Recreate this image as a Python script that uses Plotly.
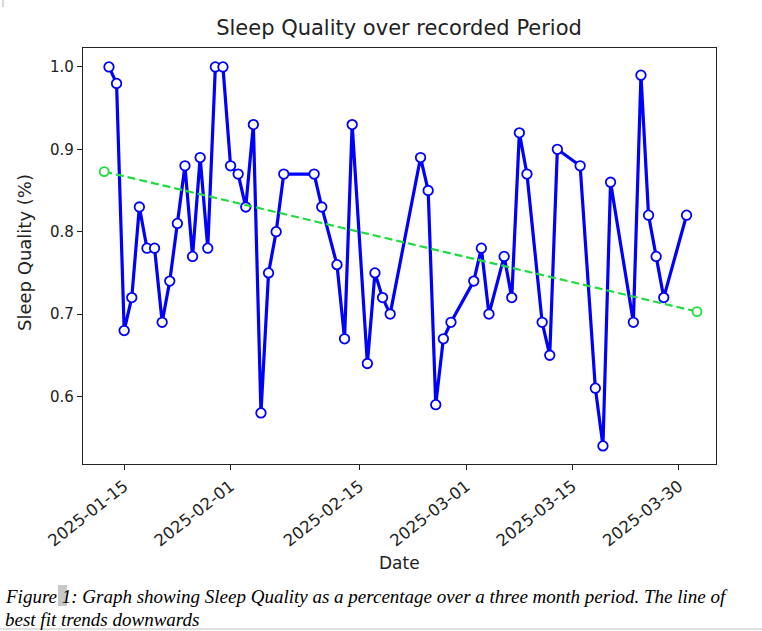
import plotly.graph_objects as go

# sleep quality readings
dates = [
    "2025-01-13", "2025-01-14", "2025-01-15", "2025-01-16", "2025-01-17",
    "2025-01-18", "2025-01-19", "2025-01-20", "2025-01-21", "2025-01-22",
    "2025-01-23", "2025-01-24", "2025-01-25", "2025-01-26", "2025-01-27",
    "2025-01-28", "2025-01-29", "2025-01-30", "2025-01-31", "2025-02-01",
    "2025-02-02", "2025-02-03", "2025-02-04", "2025-02-05", "2025-02-09",
    "2025-02-10", "2025-02-12", "2025-02-13", "2025-02-14", "2025-02-16",
    "2025-02-17", "2025-02-18", "2025-02-19", "2025-02-23", "2025-02-24",
    "2025-02-25", "2025-02-26", "2025-02-27", "2025-03-02", "2025-03-03",
    "2025-03-04", "2025-03-06", "2025-03-07", "2025-03-08", "2025-03-09",
    "2025-03-11", "2025-03-12", "2025-03-13", "2025-03-16", "2025-03-18",
    "2025-03-19", "2025-03-20", "2025-03-23", "2025-03-24", "2025-03-25",
    "2025-03-26", "2025-03-27", "2025-03-30",
]
quality = [
    1.00, 0.98, 0.68, 0.72, 0.83, 0.78, 0.78, 0.69, 0.74, 0.81,
    0.88, 0.77, 0.89, 0.78, 1.00, 1.00, 0.88, 0.87, 0.83, 0.93,
    0.58, 0.75, 0.80, 0.87, 0.87, 0.83, 0.76, 0.67, 0.93, 0.64,
    0.75, 0.72, 0.70, 0.89, 0.85, 0.59, 0.67, 0.69, 0.74, 0.78,
    0.70, 0.77, 0.72, 0.92, 0.87, 0.69, 0.65, 0.90, 0.88, 0.61,
    0.54, 0.86, 0.69, 0.99, 0.82, 0.77, 0.72, 0.82,
]

# line of best fit, end points
trend_dates = ["2025-01-12 09:00", "2025-03-31 09:00"]
trend_values = [0.873, 0.703]

tick_dates = ["2025-01-15", "2025-01-29", "2025-02-15",
              "2025-03-01", "2025-03-15", "2025-03-29"]
tick_labels = ["2025-01-15", "2025-02-01", "2025-02-15",
               "2025-03-01", "2025-03-15", "2025-03-30"]
y_ticks = [0.6, 0.7, 0.8, 0.9, 1.0]

W, H = 762, 631
L, R, T, B = 83, 46, 48, 167

def px_x(px):
    return (px - L) / (W - L - R)

def px_y(py):
    return (H - B - py) / (H - T - B)

fig = go.Figure()

fig.add_trace(go.Scatter(
    x=dates, y=quality, mode="lines+markers",
    line=dict(color="#0000ff", width=3.2),
    marker=dict(symbol="circle", size=9.5, color="white",
                line=dict(color="#0000ff", width=1.8)),
    showlegend=False,
))

fig.add_trace(go.Scatter(
    x=trend_dates, y=trend_values, mode="lines+markers",
    line=dict(color="#1fdd3f", width=2.2, dash="8px,4px"),
    marker=dict(symbol="circle", size=9, color="white",
                line=dict(color="#1fdd3f", width=1.8)),
    showlegend=False,
))

font = "DejaVu Sans"

fig.update_layout(
    width=W, height=H,
    margin=dict(l=L, r=R, t=T, b=B),
    paper_bgcolor="white", plot_bgcolor="white",
    font=dict(family=font, color="#222222"),
    title=dict(text="Sleep Quality over recorded Period",
               x=px_x(399), xref="paper", xanchor="center",
               y=1 - 28 / H, yref="container", yanchor="middle",
               font=dict(size=21, family=font, color="#222222")),
)

fig.update_xaxes(
    type="date",
    range=["2025-01-09 14:00", "2025-04-02 21:00"],
    tickmode="array", tickvals=tick_dates, ticktext=tick_labels,
    tickangle=-38, tickfont=dict(size=16.5, family=font, color="#222222"),
    ticks="outside", ticklen=5, tickcolor="#222222", tickwidth=1.2,
    showline=True, linecolor="#222222", linewidth=1.3, mirror=True,
    showgrid=False, zeroline=False,
)

fig.update_yaxes(
    range=[0.518, 1.023],
    tickmode="array", tickvals=y_ticks, ticktext=[f"{v:.1f}" for v in y_ticks],
    tickfont=dict(size=15, family=font, color="#222222"),
    ticks="outside", ticklen=5, tickcolor="#222222", tickwidth=1.2,
    showline=True, linecolor="#222222", linewidth=1.3, mirror=True,
    showgrid=False, zeroline=False,
)

# axis titles
fig.add_annotation(text="Date", xref="paper", yref="paper",
                   x=px_x(399), y=px_y(563), xanchor="center", yanchor="middle",
                   showarrow=False, font=dict(size=17, family=font, color="#222222"))
fig.add_annotation(text="Sleep Quality (%)", xref="paper", yref="paper",
                   x=px_x(24), y=px_y(253), xanchor="center", yanchor="middle",
                   textangle=-90, showarrow=False,
                   font=dict(size=18, family=font, color="#222222"))

# document caption under the chart
fig.add_shape(type="rect", xref="paper", yref="paper",
              x0=px_x(58), x1=px_x(67), y0=px_y(606), y1=px_y(585),
              fillcolor="#c8c8c8", line=dict(width=0), layer="below")
fig.add_annotation(
    text="<i>Figure 1: Graph showing Sleep Quality as a percentage over a three month period. The line of</i>",
    xref="paper", yref="paper", x=px_x(3), y=px_y(596),
    xanchor="left", yanchor="middle", showarrow=False,
    font=dict(size=19, family="Liberation Serif", color="black"))
fig.add_annotation(
    text="<i>best fit trends downwards</i>",
    xref="paper", yref="paper", x=px_x(3), y=px_y(619),
    xanchor="left", yanchor="middle", showarrow=False,
    font=dict(size=19, family="Liberation Serif", color="black"))
fig.add_shape(type="line", xref="paper", yref="paper",
              x0=px_x(0), x1=px_x(W), y0=px_y(629), y1=px_y(629),
              line=dict(color="#c0c0c0", width=1))
fig.add_shape(type="line", xref="paper", yref="paper",
              x0=px_x(3), x1=px_x(3), y0=px_y(0), y1=px_y(7),
              line=dict(color="#b0b0b0", width=1))

# the page body has a default 8px margin; drop it so the figure sits at 0,0
fig.write_html("out.html", config={"displayModeBar": False},
               post_script="document.body.style.margin = '0px';")
